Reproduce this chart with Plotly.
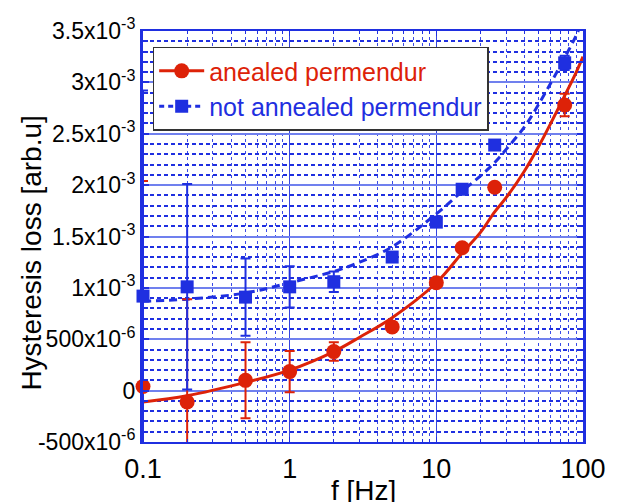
import plotly.graph_objects as go

# ---- data (values in units of 1e-3 arb.u) ----
freq = [0.1, 0.2, 0.5, 1, 2, 5, 10, 15, 25, 75]
annealed = [0.04, -0.11, 0.10, 0.185, 0.38, 0.62, 1.05, 1.39, 1.98, 2.78]
annealed_err = [2.0, 1.0, 0.37, 0.20, 0.09, 0.02, 0.02, 0.02, 0.02, 0.11]
not_annealed = [0.92, 1.01, 0.91, 1.01, 1.06, 1.30, 1.64, 1.96, 2.39, 3.19]
not_annealed_err = [2.0, 1.0, 0.375, 0.20, 0.10, 0.02, 0.02, 0.02, 0.02, 0.07]

fit_freq = [0.1, 0.2, 0.5, 1, 2, 3, 5, 10, 15, 20, 25, 30, 40, 50, 75, 90, 100]
annealed_fit = [-0.11, -0.05, 0.08, 0.20, 0.38, 0.52, 0.71, 1.05, 1.34, 1.54, 1.74,
                1.88, 2.14, 2.38, 2.87, 3.10, 3.25]
not_annealed_fit = [0.87, 0.89, 0.95, 1.05, 1.16, 1.25, 1.40, 1.72, 1.94, 2.09, 2.22,
                    2.35, 2.57, 2.79, 3.24, 3.46, 3.62]

ytick_vals = [-0.5, 0, 0.5, 1.0, 1.5, 2.0, 2.5, 3.0, 3.5]
ytick_text = ["-500x10<sup>-6</sup>", "0", "500x10<sup>-6</sup>", "1x10<sup>-3</sup>",
              "1.5x10<sup>-3</sup>", "2x10<sup>-3</sup>", "2.5x10<sup>-3</sup>",
              "3x10<sup>-3</sup>", "3.5x10<sup>-3</sup>"]

RED = "#dd2208"
BLUE = "#1f2fe0"
FONT = "Liberation Sans, Arial, Helvetica, sans-serif"

def s(v):
    return [a * 1e-3 for a in v]

fig = go.Figure()

# fit curves
fig.add_trace(go.Scatter(x=fit_freq, y=s(annealed_fit), mode="lines",
                         line=dict(color=RED, width=3, shape="spline", smoothing=1.0),
                         showlegend=False))
fig.add_trace(go.Scatter(x=fit_freq, y=s(not_annealed_fit), mode="lines",
                         line=dict(color=BLUE, width=3, dash="8px,5px", shape="spline",
                                   smoothing=1.0),
                         showlegend=False))

# error bars (clipped)
for y, e, c in [(annealed, annealed_err, RED), (not_annealed, not_annealed_err, BLUE)]:
    fig.add_trace(go.Scatter(x=freq, y=s(y), mode="markers",
                             marker=dict(size=1, color="rgba(0,0,0,0)"),
                             error_y=dict(type="data", array=s(e), visible=True,
                                          color=c, thickness=2, width=5),
                             showlegend=False, cliponaxis=True))

# markers (not clipped)
fig.add_trace(go.Scatter(x=freq, y=s(annealed), mode="markers",
                         marker=dict(symbol="circle", size=15, color=RED),
                         showlegend=False, cliponaxis=False))
fig.add_trace(go.Scatter(x=freq, y=s(not_annealed), mode="markers",
                         marker=dict(symbol="square", size=13, color=BLUE),
                         showlegend=False, cliponaxis=False))

# legend entries
fig.add_trace(go.Scatter(x=[None], y=[None], mode="lines+markers",
                         name="<span style='color:%s'>anealed permendur</span>" % RED,
                         line=dict(color=RED, width=3),
                         marker=dict(symbol="circle", size=15, color=RED)))
fig.add_trace(go.Scatter(x=[None], y=[None], mode="lines+markers",
                         name="<span style='color:%s'>not annealed permendur</span>" % BLUE,
                         line=dict(color=BLUE, width=3, dash="5px,4px"),
                         marker=dict(symbol="square", size=13, color=BLUE)))

fig.update_layout(
    width=618, height=502,
    margin=dict(l=143, r=27, t=31, b=60),
    paper_bgcolor="white", plot_bgcolor="white",
    font=dict(family=FONT, color="black"),
    legend=dict(x=0.022, y=0.962, xanchor="left", yanchor="top",
                bgcolor="white", bordercolor="#333333", borderwidth=1.5,
                font=dict(size=25, family=FONT), itemwidth=45,
                tracegroupgap=0),
    xaxis=dict(type="log", range=[-1, 2], dtick=1,
               showline=True, linecolor=BLUE, linewidth=2, mirror="ticks",
               ticks="inside", ticklen=5, tickcolor=BLUE, tickwidth=1,
               showgrid=True, gridcolor="#3545e0", gridwidth=1.2,
               zeroline=False, ticklabelstandoff=2,
               tickfont=dict(size=27, family=FONT),
               minor=dict(dtick="D1", showgrid=True, gridcolor="#3a4ae6", gridwidth=1,
                          griddash="3px,3px", ticks="inside", ticklen=3,
                          tickcolor=BLUE)),
    yaxis=dict(range=[-0.5e-3, 3.5e-3], tickmode="array",
               tickvals=s(ytick_vals), ticktext=ytick_text,
               showline=True, linecolor=BLUE, linewidth=3, mirror="ticks",
               ticks="inside", ticklen=6, tickcolor=BLUE, tickwidth=2,
               showgrid=True, gridcolor="#7080ee", gridwidth=1.5,
               zeroline=False,
               tickfont=dict(size=23, family=FONT),
               minor=dict(tick0=0, dtick=0.1e-3, showgrid=True, gridcolor=BLUE,
                          gridwidth=2, griddash="4px,3px", ticks="inside", ticklen=5,
                          tickcolor=BLUE, tickwidth=2)),
    annotations=[
        dict(text="f [Hz]", xref="paper", yref="paper", x=0.5, y=-0.118,
             xanchor="center", yanchor="middle", showarrow=False,
             font=dict(size=28, family=FONT, color="black")),
        dict(text="Hysteresis loss [arb.u]", xref="paper", yref="paper",
             x=-0.253, y=0.46, xanchor="center", yanchor="middle", textangle=-90,
             showarrow=False, font=dict(size=28, family=FONT, color="black")),
    ],
)

fig.write_html("out.html")
